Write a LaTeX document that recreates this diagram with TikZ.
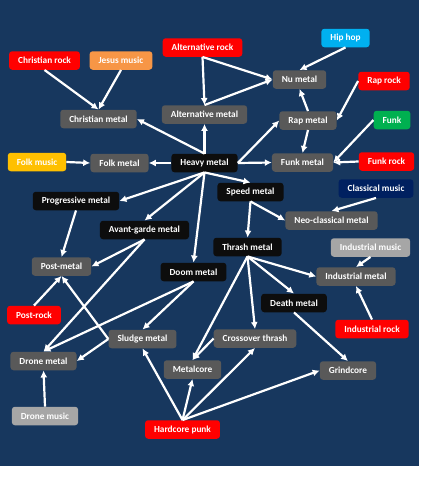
\documentclass[tikz,border=0pt]{standalone}
\usepackage{fontspec}
\setmainfont{Carlito}
\usepackage{xcolor}
\usepackage{tikz}
\usetikzlibrary{arrows.meta}

\definecolor{bgblue}{HTML}{17375E}
\definecolor{boxgray}{HTML}{595959}
\definecolor{boxblack}{HTML}{0D0D0D}
\definecolor{boxlight}{HTML}{A6A6A6}
\definecolor{boxred}{HTML}{FF0000}
\definecolor{boxorange}{HTML}{F79646}
\definecolor{boxgold}{HTML}{FFC000}
\definecolor{boxcyan}{HTML}{00B0F0}
\definecolor{boxgreen}{HTML}{00B050}
\definecolor{boxnavy}{HTML}{002060}

\begin{document}
\begin{tikzpicture}[x=1pt, y=-1pt,
  node/.style={rectangle, rounded corners=3pt, fill=boxgray, text=white, inner xsep=9pt, inner ysep=2pt, minimum height=18.5pt, font=\fontsize{9.3}{11}\selectfont\bfseries},
  core/.style={node, fill=boxblack},
  arrow/.style={-{Latex[length=7pt,width=7pt]}, draw=white, line width=2.2pt}
]
  \useasboundingbox (0,0) rectangle (421,480);
  \fill[bgblue] (0,0) rectangle (419,466);

  % roots
  \node[node, fill=boxred] (chrrock) at (44.5,60.5) {Christian rock};
  \node[node, fill=boxorange] (jesus) at (121,60.5) {Jesus music};
  \node[node, fill=boxred] (altrock) at (202.5,47.5) {Alternative rock};
  \node[node, fill=boxcyan] (hiphop) at (345.5,38) {Hip hop};
  \node[node, fill=boxred] (raprock) at (384,81) {Rap rock};
  \node[node, fill=boxgreen] (funk) at (392,120) {Funk};
  \node[node, fill=boxgold] (folkmusic) at (37,162) {Folk music};
  \node[node, fill=boxred] (funkrock) at (386.5,161.5) {Funk rock};
  \node[node, fill=boxnavy] (classical) at (376,188.5) {Classical music};
  \node[node, fill=boxlight] (indmusic) at (370.5,247.5) {Industrial music};
  \node[node, fill=boxred] (indrock) at (372,329) {Industrial rock};
  \node[node, fill=boxred] (postrock) at (34,315) {Post-rock};
  \node[node, fill=boxlight] (dronemusic) at (45,416) {Drone music};
  \node[node, fill=boxred] (hardcore) at (182.5,429.5) {Hardcore punk};

  % metal genres
  \node[core] (heavy) at (204.5,163) {Heavy metal};
  \node[node] (chrmetal) at (98.5,119) {Christian metal};
  \node[node] (altmetal) at (204.5,114.5) {Alternative metal};
  \node[node] (numetal) at (299.5,79.5) {Nu metal};
  \node[node] (rapmetal) at (308,120.5) {Rap metal};
  \node[node] (folkmetal) at (119.5,163) {Folk metal};
  \node[node] (funkmetal) at (302.5,162.5) {Funk metal};
  \node[core] (speed) at (250.5,192) {Speed metal};
  \node[node] (neoclass) at (331.5,220.5) {Neo-classical metal};
  \node[core] (thrash) at (247.5,247) {Thrash metal};
  \node[node] (indmetal) at (356,276.5) {Industrial metal};
  \node[core] (death) at (294,303) {Death metal};
  \node[core] (prog) at (76,201) {Progressive metal};
  \node[core] (avant) at (144.5,230) {Avant-garde metal};
  \node[node] (postmetal) at (61.5,266.5) {Post-metal};
  \node[core] (doom) at (193.5,272) {Doom metal};
  \node[node] (drone) at (43.5,361) {Drone metal};
  \node[node] (sludge) at (142.5,339) {Sludge metal};
  \node[node] (crossover) at (255,338.5) {Crossover thrash};
  \node[node] (metalcore) at (192.5,369.5) {Metalcore};
  \node[node] (grindcore) at (348,370.5) {Grindcore};

  % upper part
  \draw[arrow] (chrrock.south) -- (chrmetal.north);
  \draw[arrow] (jesus.south) -- (chrmetal.north);
  \draw[arrow] (altrock.south) -- (altmetal.north);
  \draw[arrow] (altrock.south) -- (numetal.west);
  \draw[arrow] (altmetal.north) -- (numetal.west);
  \draw[arrow] (hiphop.south) -- (numetal.north);
  \draw[arrow] (rapmetal.north) -- (numetal.south);
  \draw[arrow] (raprock.west) -- (rapmetal.east);
  \draw[arrow] (rapmetal.south) -- (funkmetal.north);
  \draw[arrow] (funk.west) -- (funkmetal.east);
  \draw[arrow] (funkrock.west) -- (funkmetal.east);
  \draw[arrow] (heavy.east) -- (rapmetal.west);
  \draw[arrow] (heavy.east) -- (funkmetal.west);
  \draw[arrow] (heavy.north) -- (altmetal.south);
  \draw[arrow] (heavy.north) -- (chrmetal.east);
  \draw[arrow] (heavy.west) -- (folkmetal.east);
  \draw[arrow] (folkmusic.east) -- (folkmetal.west);

  % heavy metal downwards
  \draw[arrow] (heavy.south) -- (speed.north);
  \draw[arrow] (heavy.south) -- (prog.east);
  \draw[arrow] (heavy.south) -- (avant.north);
  \draw[arrow] (heavy.south) -- (doom.north);
  \draw[arrow] (speed.south) -- (neoclass.west);
  \draw[arrow] (speed.south) -- (thrash.north);
  \draw[arrow] (classical.south) -- (neoclass.north);

  % thrash branch
  \draw[arrow] (thrash.south) -- (indmetal.west);
  \draw[arrow] (indmusic.south) -- (indmetal.north);
  \draw[arrow] (indrock.north) -- (indmetal.south);
  \draw[arrow] (thrash.south) -- (death.north);
  \draw[arrow] (thrash.south) -- (crossover.north);
  \draw[arrow] (thrash.south) -- (metalcore.north);
  \draw[arrow] (death.south) -- (grindcore.north);
  \draw[arrow] (crossover.west) -- (metalcore.north);

  % doom and post branch
  \draw[arrow] (doom.south) -- (sludge.north);
  \draw[arrow] (doom.south) -- (drone.north);
  \draw[arrow] (avant.south) -- (postmetal.east);
  \draw[arrow] (avant.south) -- (drone.north);
  \draw[arrow] (prog.south) -- (postmetal.north);
  \draw[arrow] (postrock.north) -- (postmetal.south);
  \draw[arrow] (sludge.west) -- (postmetal.south);
  \draw[arrow] (sludge.west) -- (drone.east);
  \draw[arrow] (dronemusic.north) -- (drone.south);

  % hardcore punk
  \draw[arrow] (hardcore.north) -- (sludge.south);
  \draw[arrow] (hardcore.north) -- (metalcore.south);
  \draw[arrow] (hardcore.north) -- (crossover.south);
  \draw[arrow] (hardcore.north) -- (grindcore.west);
\end{tikzpicture}
\end{document}
